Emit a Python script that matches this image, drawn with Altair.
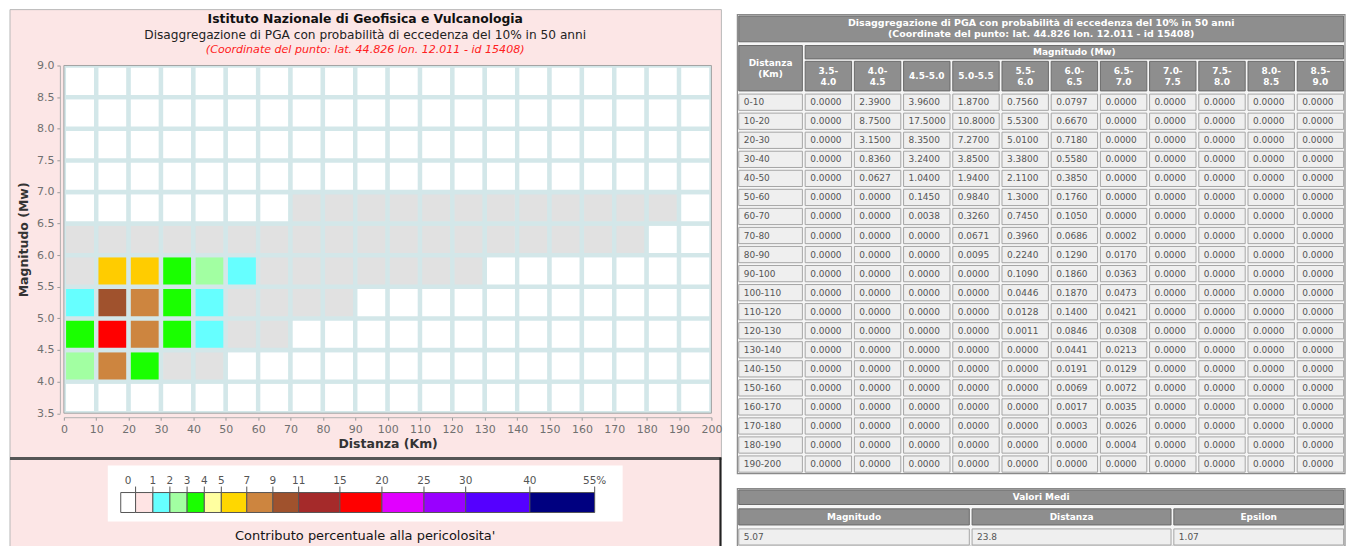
import altair as alt
import pandas as pd

# ---------------- data ----------------
dist_labels = ["0-10", "10-20", "20-30", "30-40", "40-50", "50-60", "60-70", "70-80", "80-90", "90-100",
               "100-110", "110-120", "120-130", "130-140", "140-150", "150-160", "160-170", "170-180",
               "180-190", "190-200"]
mag_labels = ["3.5-4.0", "4.0-4.5", "4.5-5.0", "5.0-5.5", "5.5-6.0", "6.0-6.5", "6.5-7.0",
              "7.0-7.5", "7.5-8.0", "8.0-8.5", "8.5-9.0"]
mag_headers = ["3.5-\n4.0", "4.0-\n4.5", "4.5-5.0", "5.0-5.5", "5.5-\n6.0", "6.0-\n6.5", "6.5-\n7.0",
               "7.0-\n7.5", "7.5-\n8.0", "8.0-\n8.5", "8.5-\n9.0"]

# one list per magnitude bin, one value per distance bin (percent contribution)
mag_3_5 = [0.0000, 0.0000, 0.0000, 0.0000, 0.0000, 0.0000, 0.0000, 0.0000, 0.0000, 0.0000,
           0.0000, 0.0000, 0.0000, 0.0000, 0.0000, 0.0000, 0.0000, 0.0000, 0.0000, 0.0000]
mag_4_0 = [2.3900, 8.7500, 3.1500, 0.8360, 0.0627, 0.0000, 0.0000, 0.0000, 0.0000, 0.0000,
           0.0000, 0.0000, 0.0000, 0.0000, 0.0000, 0.0000, 0.0000, 0.0000, 0.0000, 0.0000]
mag_4_5 = [3.9600, 17.5000, 8.3500, 3.2400, 1.0400, 0.1450, 0.0038, 0.0000, 0.0000, 0.0000,
           0.0000, 0.0000, 0.0000, 0.0000, 0.0000, 0.0000, 0.0000, 0.0000, 0.0000, 0.0000]
mag_5_0 = [1.8700, 10.8000, 7.2700, 3.8500, 1.9400, 0.9840, 0.3260, 0.0671, 0.0095, 0.0000,
           0.0000, 0.0000, 0.0000, 0.0000, 0.0000, 0.0000, 0.0000, 0.0000, 0.0000, 0.0000]
mag_5_5 = [0.7560, 5.5300, 5.0100, 3.3800, 2.1100, 1.3000, 0.7450, 0.3960, 0.2240, 0.1090,
           0.0446, 0.0128, 0.0011, 0.0000, 0.0000, 0.0000, 0.0000, 0.0000, 0.0000, 0.0000]
mag_6_0 = [0.0797, 0.6670, 0.7180, 0.5580, 0.3850, 0.1760, 0.1050, 0.0686, 0.1290, 0.1860,
           0.1870, 0.1400, 0.0846, 0.0441, 0.0191, 0.0069, 0.0017, 0.0003, 0.0000, 0.0000]
mag_6_5 = [0.0000, 0.0000, 0.0000, 0.0000, 0.0000, 0.0000, 0.0000, 0.0002, 0.0170, 0.0363,
           0.0473, 0.0421, 0.0308, 0.0213, 0.0129, 0.0072, 0.0035, 0.0026, 0.0004, 0.0000]
mag_7_0 = [0.0000, 0.0000, 0.0000, 0.0000, 0.0000, 0.0000, 0.0000, 0.0000, 0.0000, 0.0000,
           0.0000, 0.0000, 0.0000, 0.0000, 0.0000, 0.0000, 0.0000, 0.0000, 0.0000, 0.0000]
mag_7_5 = [0.0000, 0.0000, 0.0000, 0.0000, 0.0000, 0.0000, 0.0000, 0.0000, 0.0000, 0.0000,
           0.0000, 0.0000, 0.0000, 0.0000, 0.0000, 0.0000, 0.0000, 0.0000, 0.0000, 0.0000]
mag_8_0 = [0.0000, 0.0000, 0.0000, 0.0000, 0.0000, 0.0000, 0.0000, 0.0000, 0.0000, 0.0000,
           0.0000, 0.0000, 0.0000, 0.0000, 0.0000, 0.0000, 0.0000, 0.0000, 0.0000, 0.0000]
mag_8_5 = [0.0000, 0.0000, 0.0000, 0.0000, 0.0000, 0.0000, 0.0000, 0.0000, 0.0000, 0.0000,
           0.0000, 0.0000, 0.0000, 0.0000, 0.0000, 0.0000, 0.0000, 0.0000, 0.0000, 0.0000]
mag_columns = [mag_3_5, mag_4_0, mag_4_5, mag_5_0, mag_5_5, mag_6_0, mag_6_5,
               mag_7_0, mag_7_5, mag_8_0, mag_8_5]

legend_breaks = [0, 1, 2, 3, 4, 5, 7, 9, 11, 15, 20, 25, 30, 40, 55]
legend_tick_labels = ["0", "1", "2", "3", "4", "5", "7", "9", "11", "15", "20", "25", "30", "40", "55%"]
class_names = ["0", "0-1", "1-2", "2-3", "3-4", "4-5", "5-7", "7-9", "9-11", "11-15",
               "15-20", "20-25", "25-30", "30-40", "40-55"]

mean_headers = ["Magnitudo", "Distanza", "Epsilon"]
mean_values = ["5.07", "23.8", "1.07"]

title_1 = "Istituto Nazionale di Geofisica e Vulcanologia"
title_2 = "Disaggregazione di PGA con probabilità di eccedenza del 10% in 50 anni"
title_3 = "(Coordinate del punto: lat. 44.826 lon. 12.011 - id 15408)"
table_title = ("Disaggregazione di PGA con probabilità di eccedenza del 10% in 50 anni\n"
               "(Coordinate del punto: lat. 44.826 lon. 12.011 - id 15408)")
legend_caption = "Contributo percentuale alla pericolosita'"

# ---------------- styles / layout ----------------
FONT = "DejaVu Sans"
PINK = "#FCE6E6"
GRID = "#D3E7E9"
chart_colors = ["#FFFFFF", "#E1E1E1", "#66FFFF", "#A2FFA2", "#1AFF00", "#FFFFA0", "#FFCC00",
                "#CD853F", "#A0522D", "#A52A2A", "#FF0000", "#E100FF", "#9900FF", "#5500FF", "#000080"]
legend_colors = ["#FFFFFF", "#FFE4E4", "#66FFFF", "#A2FFA2", "#1AFF00", "#FFFFA0", "#FFD700",
                 "#CD853F", "#A0522D", "#A52A2A", "#FF0000", "#E100FF", "#9900FF", "#5500FF", "#000080"]
legend_layout = [0, .0313, .0678, .1037, .1400, .1763, .2122, .2659, .3210, .3754,
                 .4624, .5511, .6398, .7278, .8632, 1.0]

HW, HH = 649, 348.5          # heat-map plot area (the view)
LX0, LY0, LW, LH = 57, 428, 475, 20   # colour bar, relative to the view origin
TX0, TX1 = 675, 1284         # right-hand tables, horizontal extent
TY0, TY1 = -51, 409          # main table vertical extent
MY0, MY1 = 424, 482          # mean-values table vertical extent
T_LINE = 11                  # header line height (px)
T_ROW_PX = (TY1 - TY0) / 24.1


def classify(v):
    if v == 0:
        return class_names[0]
    for i in range(len(legend_breaks) - 1):
        if v < legend_breaks[i + 1]:
            return class_names[i + 1]
    return class_names[-1]


one = pd.DataFrame({"k": [0]})

# ---------------- heat map ----------------
rows = []
for j, col in enumerate(mag_columns):
    m0, m1 = (float(s) for s in mag_labels[j].split("-"))
    for i, v in enumerate(col):
        d0, d1 = (int(s) for s in dist_labels[i].split("-"))
        rows.append(dict(d0=d0, d1=d1, m0=m0, m1=m1, v=v, cls=classify(v)))
df_cells = pd.DataFrame(rows)

x_enc = alt.X("d0:Q", scale=alt.Scale(domain=[0, 200], nice=False, zero=False),
              axis=alt.Axis(values=list(range(0, 201, 10)), title="Distanza (Km)", grid=False,
                            offset=4, tickSize=3, tickColor="#9A9A9A", domainColor="#B0B0B0",
                            labelColor="#707070", labelFont=FONT, labelFontSize=11,
                            labelPadding=3, labelFlush=False, labelOverlap=False,
                            titleFont=FONT, titleFontSize=12.5, titleFontWeight="bold",
                            titleColor="#333333", titlePadding=3, zindex=1))
y_enc = alt.Y("m0:Q", scale=alt.Scale(domain=[3.5, 9.0], nice=False, zero=False),
              axis=alt.Axis(values=[3.5, 4.0, 4.5, 5.0, 5.5, 6.0, 6.5, 7.0, 7.5, 8.0, 8.5, 9.0],
                            format=".1f", title="Magnitudo (Mw)", grid=False,
                            offset=4, tickSize=3, tickColor="#9A9A9A", domainColor="#B0B0B0",
                            labelColor="#707070", labelFont=FONT, labelFontSize=11,
                            labelPadding=3, labelFlush=False, labelOverlap=False,
                            titleFont=FONT, titleFontSize=12.5, titleFontWeight="bold",
                            titleColor="#333333", titlePadding=6, zindex=1))

panel = alt.Chart(one).mark_rect(fill=PINK, stroke="#B9B9B9", strokeWidth=1).encode(
    x=alt.value(-54), x2=alt.value(659), y=alt.value(-56), y2=alt.value(393))
cells = alt.Chart(df_cells).mark_rect(stroke=GRID, strokeWidth=4.4, clip=True).encode(
    x=x_enc, x2="d1:Q", y=y_enc, y2="m1:Q",
    color=alt.Color("cls:N", scale=alt.Scale(domain=class_names, range=chart_colors), legend=None))
frame_df = pd.DataFrame({"d0": [0], "d1": [200], "m0": [3.5], "m1": [9.0]})
frame = alt.Chart(frame_df).mark_rect(fillOpacity=0, stroke="#A3A3A3", strokeWidth=1).encode(
    x=x_enc, x2="d1:Q", y=y_enc, y2="m1:Q")
t1 = alt.Chart(one).mark_text(text=title_1, font=FONT, fontSize=12.4, fontWeight="bold",
                              color="#111111").encode(x=alt.value(302), y=alt.value(-47))
t2 = alt.Chart(one).mark_text(text=title_2, font=FONT, fontSize=12.2, color="#222222").encode(
    x=alt.value(302), y=alt.value(-31))
t3 = alt.Chart(one).mark_text(text=title_3, font=FONT, fontSize=11.1, fontStyle="italic",
                              color="#FF2020").encode(x=alt.value(302), y=alt.value(-16))
heat = alt.layer(panel, cells, frame, t1, t2, t3)

# ---------------- colour legend ----------------
leg_scale = alt.Scale(domain=[-1] + legend_breaks, range=[LX0 + f * LW for f in legend_layout],
                      nice=False, zero=False)
df_leg = pd.DataFrame({
    "start": [-1] + legend_breaks[:-1],
    "end": legend_breaks,
    "cls": class_names,
})
df_ticks = pd.DataFrame({"b": legend_breaks})
df_lab = pd.DataFrame({"pos": [-0.5] + legend_breaks[1:], "lab": legend_tick_labels})

lpanel = alt.Chart(one).mark_rect(fill=PINK, stroke="#B9B9B9", strokeWidth=1).encode(
    x=alt.value(-54), x2=alt.value(659), y=alt.value(393), y2=alt.value(500))
lbox = alt.Chart(one).mark_rect(fill="white").encode(
    x=alt.value(LX0 - 13), x2=alt.value(LX0 + 503), y=alt.value(LY0 - 27), y2=alt.value(LY0 + 29))
swatch = alt.Chart(df_leg).mark_rect(stroke="#555555", strokeWidth=1).encode(
    x=alt.X("start:Q", scale=leg_scale, axis=None), x2="end:Q",
    y=alt.value(LY0), y2=alt.value(LY0 + LH),
    color=alt.Color("cls:N", scale=alt.Scale(domain=class_names, range=legend_colors), legend=None))
lticks = alt.Chart(df_ticks).mark_rule(color="#555555", strokeWidth=1).encode(
    x=alt.X("b:Q", scale=leg_scale, axis=None), y=alt.value(LY0 - 6), y2=alt.value(LY0))
llabels = alt.Chart(df_lab).mark_text(font=FONT, fontSize=10.5, color="#555555",
                                      baseline="middle").encode(
    x=alt.X("pos:Q", scale=leg_scale, axis=None), y=alt.value(LY0 - 12), text="lab:N")
lcap = alt.Chart(one).mark_text(text=legend_caption, font=FONT, fontSize=13, color="#151515",
                                baseline="middle").encode(x=alt.value(302), y=alt.value(LY0 + 44))
lsep = alt.Chart(one).mark_rule(color="#555555", strokeWidth=3).encode(
    x=alt.value(-54), x2=alt.value(659), y=alt.value(394))
lright = alt.Chart(one).mark_rule(color="#222222", strokeWidth=2).encode(
    x=alt.value(658), y=alt.value(393), y2=alt.value(500))
legend = alt.layer(lpanel, lbox, swatch, lticks, llabels, lcap, lsep, lright)

# ---------------- disaggregation table ----------------
tx = alt.Scale(domain=[-1.35, 11], range=[TX0, TX1], nice=False, zero=False)
ty = alt.Scale(domain=[-4.1, 20], range=[TY0, TY1], nice=False, zero=False)
gx, gy = 1.4 / 49.3, 1.4 / T_ROW_PX

trows = []


def add_cell(x0, x1, y0, y1, text, kind, fs):
    n_lines = text.count("\n") + 1
    ym = (y0 + y1) / 2 - (n_lines - 1) * T_LINE / 2 / T_ROW_PX
    trows.append(dict(x0=x0 + gx, x1=x1 - gx, y0=y0 + gy, y1=y1 - gy, text=text, kind=kind,
                      xm=(x0 + x1) / 2, ym=ym, fs=fs))


add_cell(-1.35, 11, -4.1, -2.6, table_title, "head", 9.5)
add_cell(-1.35, 0, -2.55, -0.02, "Distanza\n(Km)", "head", 9)
add_cell(0, 11, -2.55, -1.7, "Magnitudo (Mw)", "head", 9)
for j, h in enumerate(mag_headers):
    add_cell(j, j + 1, -1.72, -0.02, h, "head", 9)
for i, d in enumerate(dist_labels):
    add_cell(-1.35, 0, i, i + 1, d, "cell", 9)
    for j, col in enumerate(mag_columns):
        add_cell(j, j + 1, i, i + 1, f"{col[i]:.4f}", "cell", 9)
df_t = pd.DataFrame(trows)
df_head = df_t[df_t["kind"] == "head"]
df_body = df_t[df_t["kind"] == "cell"]

kind_fill = alt.Scale(domain=["head", "cell"], range=["#8E8E8E", "#EFEFEF"])
kind_stroke = alt.Scale(domain=["head", "cell"], range=["#6A6A6A", "#A5A5A5"])

tbg_df = pd.DataFrame({"x0": [-1.35], "x1": [11], "y0": [-4.1], "y1": [20]})
tbg = alt.Chart(tbg_df).mark_rect(fill="#F6F6F6", stroke="#8A8A8A", strokeWidth=1.2).encode(
    x=alt.X("x0:Q", scale=tx, axis=None), x2="x1:Q",
    y=alt.Y("y0:Q", scale=ty, axis=None), y2="y1:Q")
trect = alt.Chart(df_t).mark_rect(strokeWidth=1).encode(
    x=alt.X("x0:Q", scale=tx, axis=None), x2="x1:Q",
    y=alt.Y("y0:Q", scale=ty, axis=None), y2="y1:Q",
    fill=alt.Fill("kind:N", scale=kind_fill, legend=None),
    stroke=alt.Stroke("kind:N", scale=kind_stroke, legend=None))
thead = alt.Chart(df_head).mark_text(color="white", fontWeight="bold", font=FONT,
                                     lineBreak="\n", lineHeight=T_LINE, align="center",
                                     baseline="middle").encode(
    x=alt.X("xm:Q", scale=tx, axis=None), y=alt.Y("ym:Q", scale=ty, axis=None), text="text:N",
    size=alt.Size("fs:Q", scale=None, legend=None))
tbody = alt.Chart(df_body).mark_text(color="#555555", font=FONT, fontSize=9, align="left",
                                     baseline="middle", dx=5).encode(
    x=alt.X("x0:Q", scale=tx, axis=None), y=alt.Y("ym:Q", scale=ty, axis=None), text="text:N")
table = alt.layer(tbg, trect, thead, tbody)

# ---------------- mean values table ----------------
mx = alt.Scale(domain=[0, 1], range=[TX0, TX1], nice=False, zero=False)
my = alt.Scale(domain=[0, 3], range=[MY0, MY1], nice=False, zero=False)
mgx, mgy = 1.4 / (TX1 - TX0), 1.4 / 19.3
col_edges = [0, 0.384, 0.716, 1.0]
mrows = [dict(x0=0 + mgx, x1=1 - mgx, y0=0 + mgy, y1=0.9 - mgy, xm=0.5, ym=0.45,
              text="Valori Medi", kind="head")]
for k in range(3):
    a, b = col_edges[k], col_edges[k + 1]
    mrows.append(dict(x0=a + mgx, x1=b - mgx, y0=0.98 + mgy, y1=1.96 - mgy, xm=(a + b) / 2,
                      ym=1.47, text=mean_headers[k], kind="head"))
    mrows.append(dict(x0=a + mgx, x1=b - mgx, y0=2.02 + mgy, y1=3 - mgy, xm=(a + b) / 2,
                      ym=2.51, text=mean_values[k], kind="cell"))
df_m = pd.DataFrame(mrows)
mbg_df = pd.DataFrame({"x0": [0], "x1": [1], "y0": [0], "y1": [3]})
mbg = alt.Chart(mbg_df).mark_rect(fill="#F6F6F6", stroke="#8A8A8A", strokeWidth=1.2).encode(
    x=alt.X("x0:Q", scale=mx, axis=None), x2="x1:Q",
    y=alt.Y("y0:Q", scale=my, axis=None), y2="y1:Q")
mrect = alt.Chart(df_m).mark_rect(strokeWidth=1).encode(
    x=alt.X("x0:Q", scale=mx, axis=None), x2="x1:Q",
    y=alt.Y("y0:Q", scale=my, axis=None), y2="y1:Q",
    fill=alt.Fill("kind:N", scale=kind_fill, legend=None),
    stroke=alt.Stroke("kind:N", scale=kind_stroke, legend=None))
mhead = alt.Chart(df_m[df_m["kind"] == "head"]).mark_text(
    color="white", fontWeight="bold", font=FONT, fontSize=9, align="center", baseline="middle").encode(
    x=alt.X("xm:Q", scale=mx, axis=None), y=alt.Y("ym:Q", scale=my, axis=None), text="text:N")
mbody = alt.Chart(df_m[df_m["kind"] == "cell"]).mark_text(
    color="#555555", font=FONT, fontSize=9, align="left", baseline="middle", dx=5).encode(
    x=alt.X("x0:Q", scale=mx, axis=None), y=alt.Y("ym:Q", scale=my, axis=None), text="text:N")
means = alt.layer(mbg, mrect, mhead, mbody)

# ---------------- assemble ----------------
chart = alt.layer(heat, legend, table, means).resolve_scale(
    x="independent", y="independent", color="independent", fill="independent",
    stroke="independent", size="independent"
).properties(width=HW, height=HH, padding=0, background="white").configure_view(strokeWidth=0)

chart.save("out.html", embed_options={"renderer": "svg", "actions": False})
